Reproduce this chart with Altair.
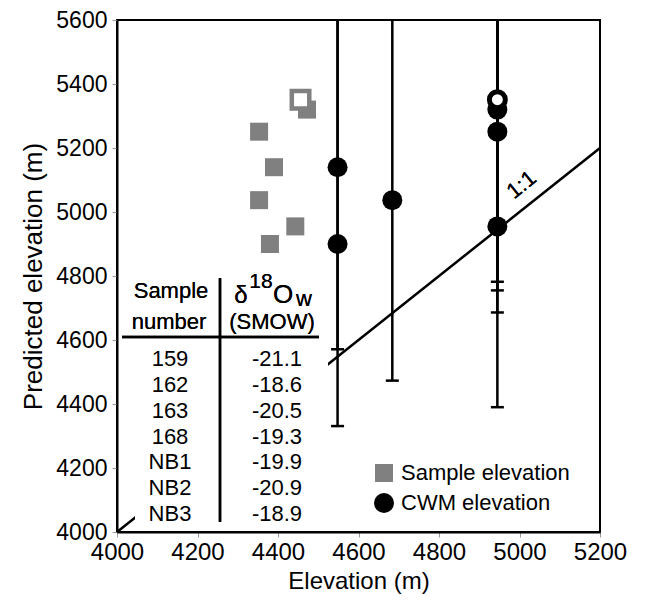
import altair as alt
import pandas as pd

# ---- data ----
sample_elev = [4353, 4390, 4353, 4443, 4380, 4472, 4456]
pred_elev = [5251, 5140, 5037, 4955, 4900, 5320, 5351]
cwm_elev = [4945, 4548, 4684, 4945, 4548, 4945, 4945]
cwm_low = [4390, 4331, 4473, 4782, 4571, 4686, 4755]
cwm_high = [5950, 5800, 5700, 5900, 5700, 5950, 6000]
is_open = [False, False, False, False, False, False, True]

table_samples = ["159", "162", "163", "168", "NB1", "NB2", "NB3"]
table_d18o = ["-21.1", "-18.6", "-20.5", "-19.3", "-19.9", "-20.9", "-18.9"]

one_to_one = [4000, 5200]

FONT = "Liberation Sans"
TOP = 12
W, H = 483, 532 - (8 + TOP)

pts = pd.DataFrame({
    "x": sample_elev + cwm_elev,
    "y": pred_elev + pred_elev,
    "series": ["Sample elevation"] * 7 + ["CWM elevation"] * 7,
    "open": is_open + is_open,
})
err = pd.DataFrame({"x": cwm_elev, "lo": cwm_low, "hi": cwm_high})
line_df = pd.DataFrame({"x": one_to_one, "y": one_to_one})
tab = pd.DataFrame({"sample": table_samples, "d18o": table_d18o,
                    "row": list(range(len(table_samples)))})

xs = alt.Scale(domain=[4000, 5200], nice=False, zero=False)
ys = alt.Scale(domain=[4000, 5600], nice=False, zero=False)
X = alt.X("x:Q", scale=xs, title="Elevation (m)",
          axis=alt.Axis(values=list(range(4000, 5201, 200)), format="d"))
Y = alt.Y("y:Q", scale=ys, title="Predicted elevation (m)",
          axis=alt.Axis(values=list(range(4000, 5601, 200)), format="d"))

series_dom = ["Sample elevation", "CWM elevation"]
color_sc = alt.Scale(domain=series_dom, range=["#808080", "#000000"])
shape_sc = alt.Scale(domain=series_dom, range=["square", "circle"])
size_sc = alt.Scale(domain=series_dom, range=[324, 400])

# table layout, in pixels from the plot's top-left corner
dy = 16 - (8 + TOP)

line11 = alt.Chart(line_df).mark_line(color="black", strokeWidth=2.5).encode(x=X, y=Y)

box = alt.Chart(line_df).mark_rect(color="white").encode(
    x=alt.value(18), x2=alt.value(211), y=alt.value(254 + dy), y2=alt.value(H - 2))

vline = alt.Chart(line_df).mark_rule(color="black", strokeWidth=2.5).encode(
    x=alt.value(103), y=alt.value(262 + dy), y2=alt.value(506 + dy))
hline = alt.Chart(line_df).mark_rule(color="black", strokeWidth=2.5).encode(
    x=alt.value(5), x2=alt.value(202), y=alt.value(321 + dy))

def label(txt, x, y, size=22, align="center"):
    return alt.Chart(line_df).mark_text(
        text=txt, font=FONT, fontSize=size, align=align, baseline="alphabetic",
        color="black").encode(x=alt.value(x), y=alt.value(y + dy))

hdr = [
    label("Sample", 54, 282, 22),
    label("number", 52, 313, 22),
    label("(SMOW)", 155, 313, 22),
    label("δ", 124, 287, 24),
    label("18", 144, 272, 21),
    label("O", 166, 287, 26),
    label("w", 187, 290, 22),
]

rows_base = alt.Chart(tab).transform_calculate(
    y="4517.8 - 80.6 * datum.row")
col1 = rows_base.mark_text(font=FONT, fontSize=22, align="center",
                           baseline="alphabetic", color="black").encode(
    x=alt.value(53), y=alt.Y("y:Q", scale=ys), text="sample:N")
col2 = rows_base.mark_text(font=FONT, fontSize=22, align="center",
                           baseline="alphabetic", color="black").encode(
    x=alt.value(160), y=alt.Y("y:Q", scale=ys), text="d18o:N")

bars = alt.Chart(err).mark_rule(color="black", strokeWidth=2.5, clip=True).encode(
    x=alt.X("x:Q", scale=xs), y=alt.Y("lo:Q", scale=ys), y2="hi:Q")
caps = alt.Chart(err).mark_tick(color="black", orient="horizontal", size=13,
                                thickness=2.5, opacity=1).encode(
    x=alt.X("x:Q", scale=xs), y=alt.Y("lo:Q", scale=ys))

filled = alt.Chart(pts).transform_filter("!datum.open").mark_point(
    filled=True, opacity=1).encode(
    x=X, y=Y,
    color=alt.Color("series:N", scale=color_sc, title=None,
                    legend=alt.Legend(orient="none", legendX=256, legendY=446 + dy,
                                      labelFontSize=22, labelFont=FONT,
                                      labelColor="black", labelLimit=0,
                                      rowPadding=8, labelOffset=6,
                                      symbolStrokeWidth=0)),
    shape=alt.Shape("series:N", scale=shape_sc, title=None),
    size=alt.Size("series:N", scale=size_sc, title=None),
    order=alt.Order("series:N", sort="descending"),
)
open_sq = alt.Chart(pts).transform_filter(
    "datum.open && datum.series == 'Sample elevation'").mark_point(
    shape="square", filled=True, fill="white", stroke="#808080",
    strokeWidth=4.5, size=306, opacity=1).encode(x=X, y=Y)
open_ci = alt.Chart(pts).transform_filter(
    "datum.open && datum.series == 'CWM elevation'").mark_point(
    shape="circle", filled=True, fill="white", stroke="black",
    strokeWidth=5, size=254, opacity=1).encode(x=X, y=Y)

lbl11 = alt.Chart(line_df).mark_text(
    text="1:1", font=FONT, fontSize=22, angle=321, color="black").encode(
    x=alt.value((5005 - 4000) / 1200 * W), y=alt.value((5600 - 5085) / 1600 * H))

chart = alt.layer(
    line11, box, vline, hline, *hdr, col1, col2, bars, caps,
    filled, open_sq, open_ci, lbl11
).properties(
    width=W, height=H,
    autosize=alt.AutoSizeParams(type="none"),
    padding={"left": 109, "top": TOP, "right": 41, "bottom": 64},
).configure_view(
    stroke="black", strokeWidth=2
).configure_axis(
    grid=False, domainColor="black", domainWidth=2,
    tickColor="#999999", tickSize=5, tickWidth=1, labelFlush=False,
    labelFont=FONT, labelFontSize=23, labelColor="black",
    titleFont=FONT, titleFontSize=24, titleFontWeight="normal", titleColor="black",
).configure_axisX(
    labelFontSize=24, labelPadding=3, titlePadding=5
).configure_axisY(
    labelPadding=5, titlePadding=9, titleFontSize=26
)

chart.save("out.html", embed_options={"renderer": "svg", "actions": False})
